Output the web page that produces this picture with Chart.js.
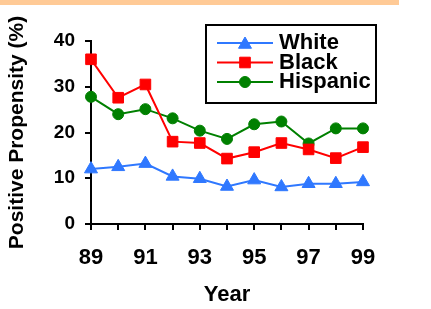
<!DOCTYPE html>
<html>
<head>
<meta charset="utf-8">
<script src="https://cdn.jsdelivr.net/npm/chart.js@4.4.1/dist/chart.umd.min.js"></script>
<style>
  html, body { margin: 0; padding: 0; background: #fff; }
  #wrap { position: relative; width: 431px; height: 309px; }
</style>
</head>
<body>
<div id="wrap"><canvas id="chart" width="431" height="309"></canvas></div>
<script>
// data
const years = ["89","90","91","92","93","94","95","96","97","98","99"];
const white = [12.0, 12.5, 13.2, 10.4, 9.9, 8.2, 9.6, 8.1, 8.8, 8.8, 9.2];
const black = [36.0, 27.6, 30.5, 18.0, 17.7, 14.3, 15.7, 17.7, 16.3, 14.4, 16.8];
const hispanic = [27.8, 24.0, 25.1, 23.1, 20.4, 18.6, 21.8, 22.4, 17.6, 20.9, 20.9];
const yTicks = [0, 10, 20, 30, 40];

const FONT = "'Liberation Sans', Arial, sans-serif";
const colors = { white: "#2f78ff", black: "#ff0000", hispanic: "#008000" };

// small marker painter for the legend box
function drawMarker(ctx, style, r, x, y, color) {
  ctx.save();
  ctx.fillStyle = color;
  ctx.strokeStyle = color;
  ctx.lineWidth = 1;
  ctx.beginPath();
  if (style === "triangle") {
    let a = 0;
    ctx.moveTo(x + Math.sin(a) * r, y - Math.cos(a) * r);
    a += 2 * Math.PI / 3;
    ctx.lineTo(x + Math.sin(a) * r, y - Math.cos(a) * r);
    a += 2 * Math.PI / 3;
    ctx.lineTo(x + Math.sin(a) * r, y - Math.cos(a) * r);
    ctx.closePath();
  } else if (style === "rect") {
    const s = r * Math.SQRT1_2;
    ctx.rect(x - s, y - s, 2 * s, 2 * s);
  } else {
    ctx.arc(x, y, r, 0, Math.PI * 2);
  }
  ctx.fill();
  ctx.stroke();
  ctx.restore();
}

const boxLegend = {
  id: "boxLegend",
  beforeDraw(chart) {
    const ctx = chart.ctx;
    ctx.save();
    ctx.fillStyle = "#ffca96";
    ctx.fillRect(0, 0, 399, 5);
    ctx.restore();
  },
  afterDatasetsDraw(chart) {
    const ctx = chart.ctx;
    ctx.save();
    ctx.fillStyle = "#fff";
    ctx.fillRect(206, 25, 170, 78);
    ctx.strokeStyle = "#000";
    ctx.lineWidth = 2;
    ctx.strokeRect(206, 25, 170, 78);
    chart.data.datasets.forEach((ds, i) => {
      const y = 43 + i * 19.5;
      ctx.strokeStyle = ds.borderColor;
      ctx.lineWidth = 2;
      ctx.beginPath();
      ctx.moveTo(217, y);
      ctx.lineTo(273, y);
      ctx.stroke();
      const yy = ds.pointStyle === "triangle" ? y + 1.5 : y;
      drawMarker(ctx, ds.pointStyle, ds.pointRadius, 245, yy, ds.borderColor);
      ctx.fillStyle = "#000";
      ctx.font = "bold 22px " + FONT;
      ctx.textAlign = "left";
      ctx.textBaseline = "middle";
      ctx.fillText(ds.label, 279, y);
    });
    ctx.restore();
  }
};

function series(label, values, color, style, radius) {
  return {
    label: label,
    data: values,
    borderColor: color,
    backgroundColor: color,
    borderWidth: 2,
    pointStyle: style,
    pointRadius: radius,
    pointBorderWidth: 1,
    pointBackgroundColor: color,
    pointBorderColor: color,
    tension: 0
  };
}

new Chart(document.getElementById("chart"), {
  type: "line",
  data: {
    labels: years,
    datasets: [
      series("White", white, colors.white, "triangle", 7.5),
      series("Black", black, colors.black, "rect", 7.5),
      series("Hispanic", hispanic, colors.hispanic, "circle", 5.5)
    ]
  },
  plugins: [boxLegend],
  options: {
    responsive: false,
    animation: false,
    layout: { padding: { top: 41, right: 68, bottom: 0, left: 0 } },
    plugins: {
      legend: { display: false },
      tooltip: { enabled: false }
    },
    scales: {
      x: {
        offset: false,
        afterFit(scale) { scale.height = 85; },
        grid: { drawOnChartArea: false, drawTicks: true, tickLength: 6, color: "#000", lineWidth: 2 },
        border: { display: true, color: "#000", width: 2 },
        ticks: {
          color: "#000",
          autoSkip: false,
          maxRotation: 0,
          padding: 15,
          font: { family: FONT, size: 22, weight: "bold" },
          callback(val, idx) { return idx % 2 === 0 ? years[idx] : ""; }
        },
        title: {
          display: true,
          text: "Year",
          color: "#000",
          padding: { top: 0, bottom: 1 },
          font: { family: FONT, size: 22, weight: "bold" }
        }
      },
      y: {
        min: yTicks[0],
        max: yTicks[yTicks.length - 1],
        afterFit(scale) { scale.width = 91; },
        afterBuildTicks(scale) { scale.ticks = yTicks.map(v => ({ value: v })); },
        grid: { drawOnChartArea: false, drawTicks: true, tickLength: 6, color: "#000", lineWidth: 2 },
        border: { display: true, color: "#000", width: 2 },
        ticks: {
          color: "#000",
          padding: 10,
          font: { family: FONT, size: 19, weight: "bold" }
        },
        title: {
          display: true,
          text: "Positive Propensity (%)",
          color: "#000",
          padding: { top: 5, bottom: 0 },
          font: { family: FONT, size: 21, weight: "bold" }
        }
      }
    }
  }
});
</script>
</body>
</html>
